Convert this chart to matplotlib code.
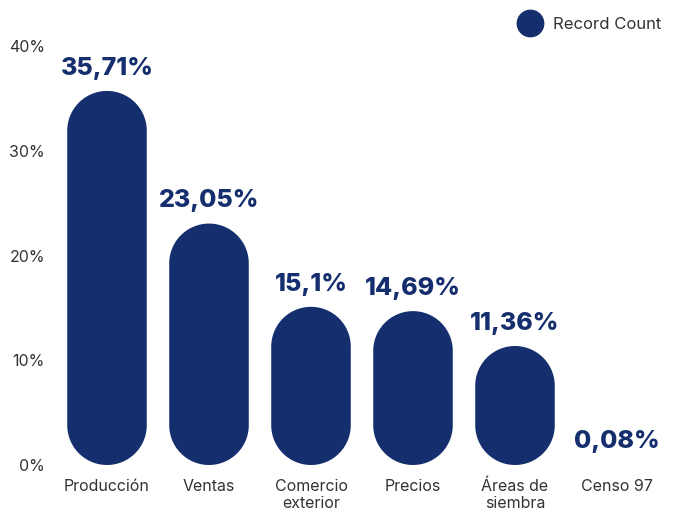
import matplotlib
matplotlib.use("Agg")
import matplotlib.pyplot as plt
import numpy as np
from matplotlib.patches import Polygon
from matplotlib.lines import Line2D

# datos
categorias = ["Producción", "Ventas", "Comercio\nexterior", "Precios", "Áreas de\nsiembra", "Censo 97"]
valores = [35.71, 23.05, 15.1, 14.69, 11.36, 0.08]
etiquetas = ["35,71%", "23,05%", "15,1%", "14,69%", "11,36%", "0,08%"]
yticks = [0, 10, 20, 30, 40]
ytick_labels = ["0%", "10%", "20%", "30%", "40%"]

color = "#152f6e"
plt.rcParams["font.family"] = ["Inter", "DejaVu Sans"]

fig = plt.figure(figsize=(6.77, 5.12), dpi=100)
ax = fig.add_axes([56 / 677, 47 / 512, 612 / 677, 419 / 512])
ax.set_xlim(-0.5, len(categorias) - 0.5)
ax.set_ylim(0, 40)

# pixeles por unidad de datos, para que los extremos sean semicirculos
bb = ax.get_window_extent()
px_x = bb.width / (len(categorias))
px_y = bb.height / 40.0

ancho = 0.78
for i, v in enumerate(valores):
    rx = ancho / 2
    ry = rx * px_x / px_y
    if v >= 2 * ry:  # barras demasiado bajas no se ven
        t = np.linspace(0, np.pi, 60)
        top = np.column_stack([i + rx * np.cos(t), v - ry + ry * np.sin(t)])
        bot = np.column_stack([i - rx * np.cos(t), ry - ry * np.sin(t)])
        pts = np.vstack([top, bot])
        ax.add_patch(Polygon(pts, closed=True, facecolor=color, edgecolor="none"))
    ax.annotate(etiquetas[i], (i, v), xytext=(0, 8), textcoords="offset points",
                ha="center", va="bottom", fontsize=18, fontweight="extra bold", color=color)

ax.set_xticks(range(len(categorias)))
ax.set_xticklabels(categorias, fontsize=11.5, color="#333333", linespacing=1.15)
ax.set_yticks(yticks)
ax.set_yticklabels(ytick_labels, fontsize=11.5, color="#333333")
ax.tick_params(axis="both", length=0)
ax.tick_params(axis="x", pad=10)
ax.tick_params(axis="y", pad=8)
for s in ax.spines.values():
    s.set_visible(False)

handle = Line2D([], [], marker="o", linestyle="none", markersize=19,
                markerfacecolor=color, markeredgecolor=color)
fig.legend([handle], ["Record Count"], loc="upper right", bbox_to_anchor=(0.994, 0.99),
           frameon=False, fontsize=12, handletextpad=0.4, borderaxespad=0.3,
           labelcolor="#333333")

fig.savefig("out.png", dpi=100)
